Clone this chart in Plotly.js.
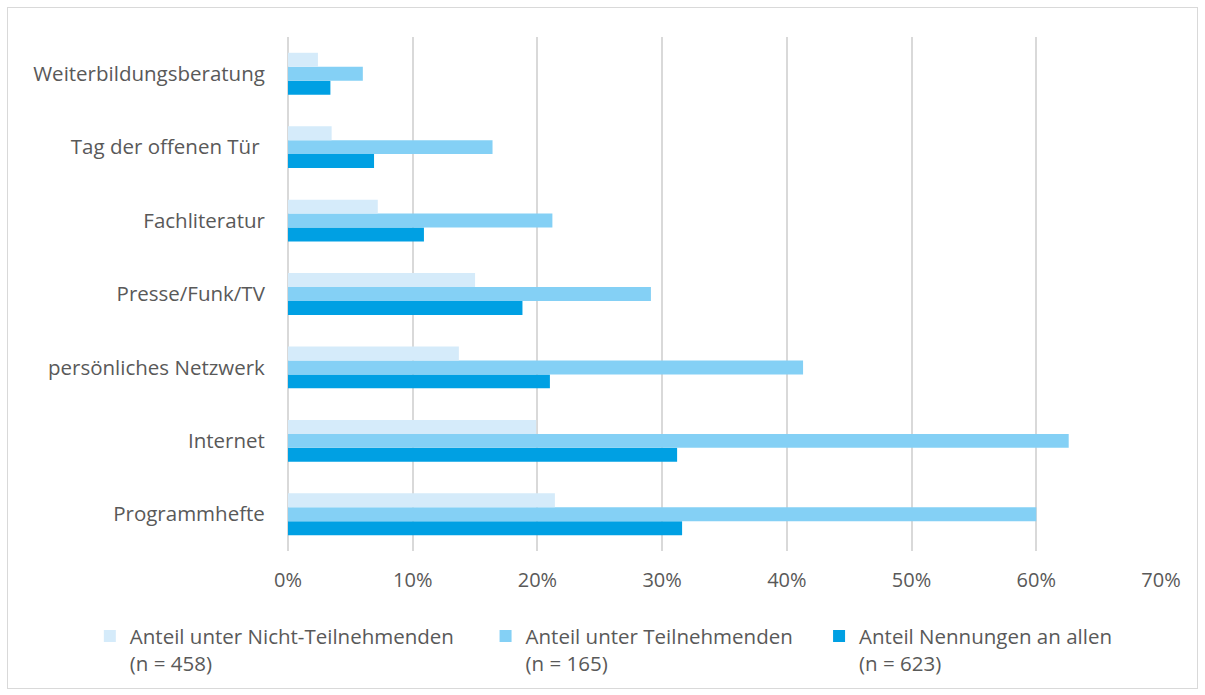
<!DOCTYPE html>
<html><head><meta charset="utf-8">
<script src="https://cdn.plot.ly/plotly-3.0.1.min.js"></script>
<style>
html,body{margin:0;padding:0;background:#fff;}
#wrap{position:relative;width:1205px;height:695px;}
#chart{width:1205px;height:695px;}
#frame{position:absolute;left:7px;top:7px;width:1189px;height:680px;border:1px solid #d9d9d9;pointer-events:none;}
</style></head>
<body><div id="wrap"><div id="chart"></div><div id="frame"></div></div>
<script>
// categories listed bottom to top
const categories = ["Programmhefte", "Internet", "persönliches Netzwerk", "Presse/Funk/TV", "Fachliteratur", "Tag der offenen Tür ", "Weiterbildungsberatung"];
const nennungenAllen = [0.316, 0.312, 0.210, 0.188, 0.109, 0.069, 0.034];
const teilnehmende = [0.600, 0.626, 0.413, 0.291, 0.212, 0.164, 0.060];
const nichtTeilnehmende = [0.214, 0.199, 0.137, 0.150, 0.072, 0.035, 0.024];
const seriesNames = ["Anteil Nennungen an allen<br>(n = 623)", "Anteil unter Teilnehmenden\u00a0\u00a0\u00a0\u00a0<br>(n = 165)", "Anteil unter Nicht-Teilnehmenden\u00a0\u00a0\u00a0\u00a0\u00a0<br>(n = 458)"];
const xTickVals = [0, 0.1, 0.2, 0.3, 0.4, 0.5, 0.6, 0.7];

const font = "Open Sans, Lato, sans-serif";
const mk = (x, name, color) => ({type:'bar', orientation:'h', y:categories, x:x, name:name,
  marker:{color:color, line:{width:0}}, hoverinfo:'x+y'});
const data = [
  mk(nennungenAllen, seriesNames[0], '#00a0e3'),
  mk(teilnehmende, seriesNames[1], '#84d0f5'),
  mk(nichtTeilnehmende, seriesNames[2], '#d5ebfa')
];
const layout = {
  width:1205, height:695,
  margin:{l:288, r:44, t:37, b:144},
  paper_bgcolor:'#fff', plot_bgcolor:'#fff',
  barmode:'group', bargap:0.43, bargroupgap:0,
  font:{family:font, size:21, color:'#595959'},
  xaxis:{range:[0,0.7], tickvals:xTickVals, tickformat:'.0%', showgrid:true, gridcolor:'#d9d9d9', gridwidth:1.6,
    zeroline:true, zerolinecolor:'#d9d9d9', zerolinewidth:1.6, showline:false, ticks:'outside', ticklen:11, tickcolor:'rgba(0,0,0,0)',
    tickfont:{family:font, size:20, color:'#595959'}, fixedrange:true},
  yaxis:{type:'category', showgrid:false, zeroline:false, showline:false, ticks:'outside', ticklen:18, tickcolor:'rgba(0,0,0,0)',
    tickfont:{family:font, size:20.5, color:'#595959'}, fixedrange:true},
  legend:{orientation:'h', traceorder:'reversed', x:-0.227, xanchor:'left', y:-0.127, yanchor:'top',
    font:{family:font, size:20.5, color:'#595959'}, itemwidth:30, tracegroupgap:0, valign:'top'},
  showlegend:true
};
Plotly.newPlot('chart', data, layout, {displayModeBar:false});
</script></body></html>
